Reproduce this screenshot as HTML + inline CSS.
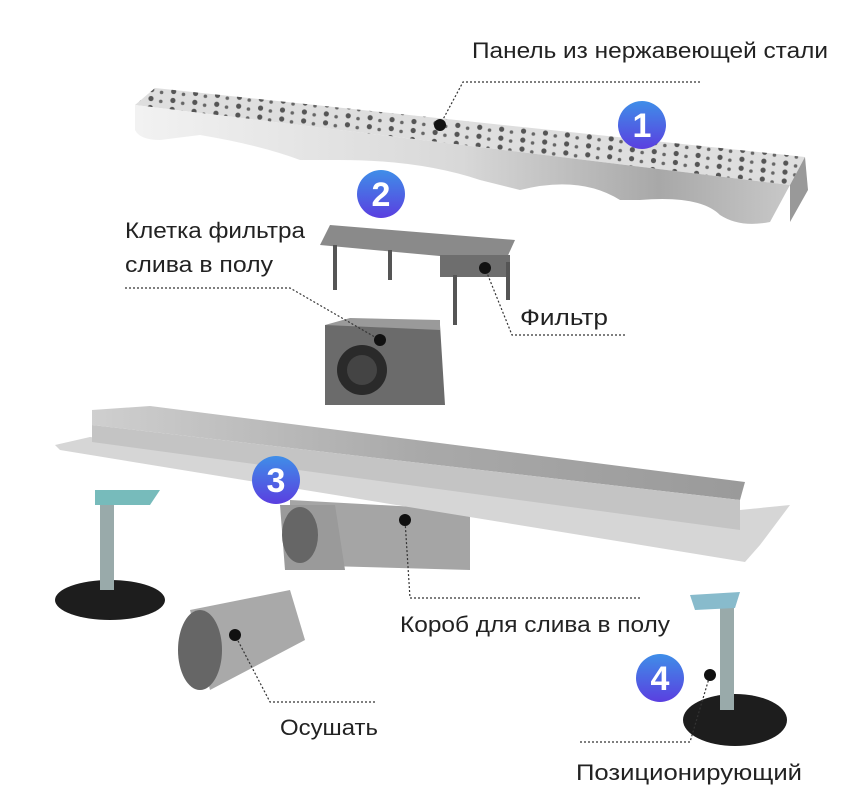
<!DOCTYPE html>
<html><head><meta charset="utf-8"><style>
body{margin:0;background:#fff;width:850px;height:790px;overflow:hidden;font-family:"Liberation Sans",sans-serif}
</style></head><body>
<svg width="850" height="790" xmlns="http://www.w3.org/2000/svg">
<defs>
<linearGradient id="steel" x1="0" y1="0" x2="1" y2="0"><stop offset="0" stop-color="#f2f2f2"/><stop offset="0.5" stop-color="#d8d8d8"/><stop offset="0.8" stop-color="#a8a8a8"/><stop offset="1" stop-color="#c8c8c8"/></linearGradient>
<linearGradient id="ch" x1="0" y1="0" x2="1" y2="0"><stop offset="0" stop-color="#cfcfcf"/><stop offset="0.5" stop-color="#a9a9a9"/><stop offset="1" stop-color="#9a9a9a"/></linearGradient>
<linearGradient id="blue" x1="0" y1="0" x2="0" y2="1"><stop offset="0" stop-color="#3f8ee8"/><stop offset="1" stop-color="#5a3fe0"/></linearGradient>
<pattern id="holes" width="22" height="9" patternUnits="userSpaceOnUse" patternTransform="rotate(5)"><circle cx="5" cy="4" r="2.6" fill="#555"/><circle cx="15" cy="6" r="1.8" fill="#666"/></pattern>
</defs>
<!-- panel -->
<polygon points="155,88 805,157 790,185 135,105" fill="#dedede"/>
<polygon points="155,88 805,157 790,185 135,105" fill="url(#holes)"/>
<path d="M135,105 L790,185 L770,222 Q740,228 720,215 Q700,195 640,200 L620,200 Q580,175 520,190 L480,180 Q420,160 340,160 L300,160 Q260,145 200,135 L160,140 Q140,140 135,130 Z" fill="url(#steel)"/>
<polygon points="805,157 808,190 790,222 790,185" fill="#999"/>
<!-- filter cage -->
<polygon points="330,225 515,240 505,262 320,245" fill="#8a8a8a"/>
<rect x="440" y="255" width="70" height="22" fill="#6e6e6e"/>
<g stroke="#555" stroke-width="4"><line x1="335" y1="245" x2="335" y2="290"/><line x1="390" y1="250" x2="390" y2="280"/><line x1="455" y1="275" x2="455" y2="325"/><line x1="508" y1="262" x2="508" y2="300"/></g>
<!-- box -->
<polygon points="325,325 440,325 445,405 325,405" fill="#6b6b6b"/>
<polygon points="325,325 350,318 440,320 440,330" fill="#9a9a9a"/>
<circle cx="362" cy="370" r="25" fill="#2a2a2a"/><circle cx="362" cy="370" r="15" fill="#444"/>
<!-- channel -->
<polygon points="290,500 470,510 470,570 290,565" fill="#a5a5a5"/>
<polygon points="280,505 335,505 345,570 285,570" fill="#9a9a9a"/>
<ellipse cx="300" cy="535" rx="18" ry="28" fill="#666"/>
<polygon points="55,445 90,437 740,510 790,505 760,545 745,562 60,450" fill="#d6d6d6"/>
<polygon points="92,410 150,406 745,482 740,500 92,425" fill="url(#ch)"/>
<polygon points="92,425 740,500 740,530 92,442" fill="#c4c4c4"/>
<!-- left foot -->
<ellipse cx="110" cy="600" rx="55" ry="20" fill="#1d1d1d"/>
<rect x="100" y="495" width="14" height="95" fill="#9aa"/><polygon points="95,490 160,490 150,505 95,505" fill="#7bb"/>
<!-- pipe -->
<polygon points="190,610 290,590 305,640 210,690" fill="#a9a9a9"/>
<ellipse cx="200" cy="650" rx="22" ry="40" fill="#666"/>
<!-- right foot -->
<ellipse cx="735" cy="720" rx="52" ry="26" fill="#1d1d1d"/>
<rect x="720" y="600" width="14" height="110" fill="#9aa"/><polygon points="690,595 740,592 735,608 695,610" fill="#8bc"/>
<!-- dotted lines -->
<g stroke="#333" stroke-width="1.2" stroke-dasharray="2,2" fill="none">
<polyline points="700,82 463,82 440,125"/>
<polyline points="125,288 290,288 380,340"/>
<polyline points="625,335 512,335 485,268"/>
<polyline points="640,598 410,598 405,520"/>
<polyline points="375,702 270,702 235,635"/>
<polyline points="580,742 690,742 710,675"/>
</g>
<g fill="#111"><circle cx="440" cy="125" r="6"/><circle cx="380" cy="340" r="6"/><circle cx="485" cy="268" r="6"/><circle cx="405" cy="520" r="6"/><circle cx="235" cy="635" r="6"/><circle cx="710" cy="675" r="6"/></g>
<!-- numbers -->
<g font-family="Liberation Sans,sans-serif" font-size="34" fill="#fff" text-anchor="middle" font-weight="bold">
<circle cx="642" cy="125" r="24" fill="url(#blue)"/><text x="642" y="137">1</text>
<circle cx="381" cy="194" r="24" fill="url(#blue)"/><text x="381" y="206">2</text>
<circle cx="276" cy="480" r="24" fill="url(#blue)"/><text x="276" y="492">3</text>
<circle cx="660" cy="678" r="24" fill="url(#blue)"/><text x="660" y="690">4</text>
</g>
<g font-family="Liberation Sans,sans-serif" font-size="22" fill="#222">
<text x="472" y="58" textLength="356" lengthAdjust="spacingAndGlyphs">Панель из нержавеющей стали</text>
<text x="125" y="238" textLength="180" lengthAdjust="spacingAndGlyphs">Клетка фильтра</text>
<text x="125" y="272" textLength="148" lengthAdjust="spacingAndGlyphs">слива в полу</text>
<text x="520" y="325" textLength="88" lengthAdjust="spacingAndGlyphs">Фильтр</text>
<text x="400" y="632" textLength="270" lengthAdjust="spacingAndGlyphs">Короб для слива в полу</text>
<text x="280" y="735" textLength="98" lengthAdjust="spacingAndGlyphs">Осушать</text>
<text x="576" y="780" textLength="226" lengthAdjust="spacingAndGlyphs">Позиционирующий</text>
</g>
</svg>
</body></html>
